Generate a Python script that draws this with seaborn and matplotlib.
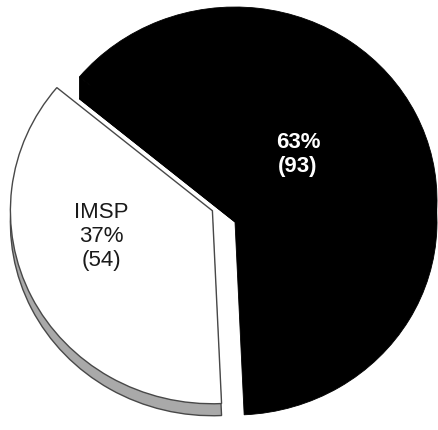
import matplotlib
matplotlib.use("Agg")
import matplotlib.pyplot as plt
import seaborn as sns
import numpy as np
from matplotlib.patches import Polygon

sns.set_theme(style="white")
plt.rcParams["font.family"] = ["Liberation Sans", "DejaVu Sans"]

# Data
groups = ["", "IMSP"]
counts = [93, 54]
face_colors = ["#000000", "#ffffff"]
side_colors = ["#000000", "#a9a9a9"]
text_colors = ["#ffffff", "#1a1a1a"]
text_weights = ["bold", "normal"]

total = sum(counts)
shares = [round(100 * c / total) for c in counts]

# Geometry of the tilted, extruded pie
start_angle = -87.4
explode = [0.0, 0.125]
depth = [0.114, 0.062]        # extrusion of each slice (axis units)
edge_grey = "#484848"

fig = plt.figure(figsize=(4.38, 4.30), dpi=100)
ax = fig.add_axes([0, 0, 1, 1])


def draw_layer(offset_y, colors, keep, edge, lw):
    wedges, _ = ax.pie(counts, colors=colors, startangle=start_angle,
                       counterclock=True, explode=explode,
                       center=(0, -offset_y), radius=1.0,
                       wedgeprops=dict(linewidth=lw, edgecolor=edge))
    for i, w in enumerate(wedges):
        if i != keep:
            w.set_visible(False)
    return wedges


# side walls (drawn first, lower copies)
black_side = draw_layer(depth[0], side_colors, keep=0, edge="#000000", lw=0.6)
# swept cut face of the large slice along its upper radial edge
w = black_side[0]
t2 = np.deg2rad(w.theta2)
tip = np.array([np.cos(t2), np.sin(t2)])
d = depth[0]
ax.add_patch(Polygon([(0, 0), tip, tip - [0, d], (0, -d)],
                     closed=True, facecolor="#000000", edgecolor="#000000",
                     linewidth=0.6))

draw_layer(depth[1], side_colors, keep=1, edge=edge_grey, lw=1.0)

# top faces
draw_layer(0.0, face_colors, keep=0, edge="#000000", lw=0.6)
draw_layer(0.0, face_colors, keep=1, edge=edge_grey, lw=1.0)

# slice labels
label_pos = [(0.312, 0.236), (-0.660, -0.190)]
for i, (g, s, n) in enumerate(zip(groups, shares, counts)):
    txt = f"{s}%\n({n})" if not g else f"{g}\n{s}%\n({n})"
    ax.text(label_pos[i][0], label_pos[i][1], txt, ha="center", va="center",
            color=text_colors[i], fontsize=16, fontweight=text_weights[i],
            linespacing=1.2, zorder=5)

ax.set_aspect("auto")
ax.set_xlim(-235 / 202, 203 / 202)
ax.set_ylim(-230 / 193, 200 / 193)
ax.axis("off")

fig.savefig("out.png", dpi=100, facecolor="white")
